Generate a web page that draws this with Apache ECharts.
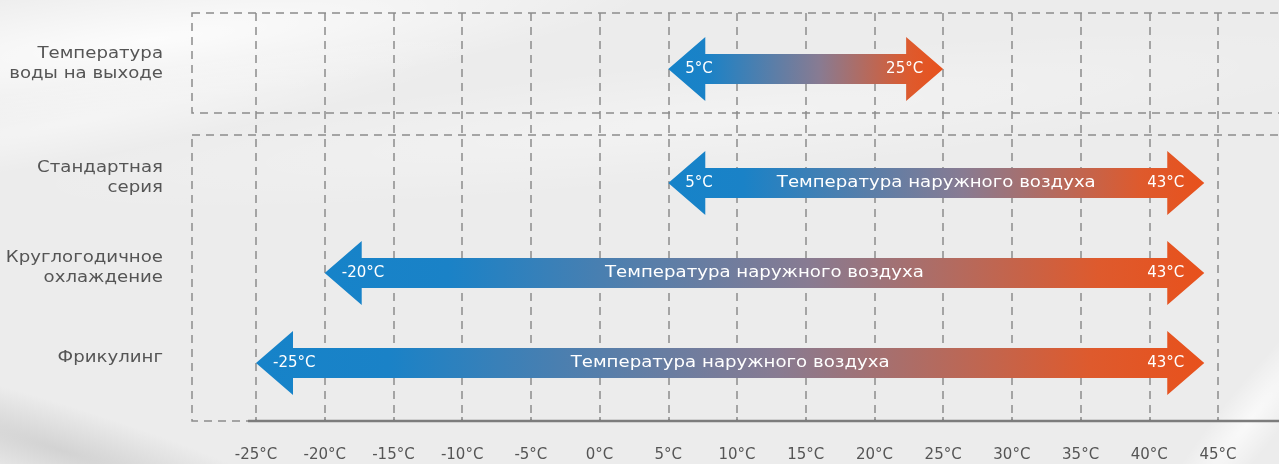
<!DOCTYPE html>
<html>
<head>
<meta charset="utf-8">
<script src="https://cdn.jsdelivr.net/npm/echarts@6/dist/echarts.min.js"></script>
<style>
html,body{margin:0;padding:0;background:#ededed;}
#chart{width:1279px;height:464px;}
</style>
</head>
<body>
<div id="chart"></div>
<script>
// ---- data ----
const categories = ['Температура\nводы на выходе', 'Стандартная\nсерия', 'Круглогодичное\nохлаждение', 'Фрикулинг'];
const rangeFrom = [5, 5, -20, -25];          // arrow start (°C)
const rangeTo = [25, 44, 44, 44];            // arrow tip as drawn (°C)
const fromLabels = ['5°C', '5°C', '-20°C', '-25°C'];
const toLabels = ['25°C', '43°C', '43°C', '43°C'];
const midLabels = ['', 'Температура наружного воздуха', 'Температура наружного воздуха', 'Температура наружного воздуха'];
const tickValues = [-25, -20, -15, -10, -5, 0, 5, 10, 15, 20, 25, 30, 35, 40, 45];

const FONT = '"DejaVu Sans", Inter, sans-serif';
const chart = echarts.init(document.getElementById('chart'));

function renderArrow(params, api) {
  const idx = api.value(2);
  const p0 = api.coord([api.value(0), api.value(3)]);
  const p1 = api.coord([api.value(1), api.value(3)]);
  const x0 = p0[0], x1 = p1[0], cy = p0[1];
  const bh = 15, hh = 32, hl = 37;
  const pts = [
    [x0, cy], [x0 + hl, cy - hh], [x0 + hl, cy - bh], [x1 - hl, cy - bh], [x1 - hl, cy - hh],
    [x1, cy], [x1 - hl, cy + hh], [x1 - hl, cy + bh], [x0 + hl, cy + bh], [x0 + hl, cy + hh]
  ];
  const grad = new echarts.graphic.LinearGradient(0, 0, 1, 0, [
    {offset: 0, color: '#1683c9'},
    {offset: 0.14, color: '#1a82c7'},
    {offset: 0.55, color: '#887b92'},
    {offset: 0.88, color: '#de5a2d'},
    {offset: 1, color: '#e8511c'}
  ]);
  const children = [
    {type: 'polygon', shape: {points: pts}, style: {fill: grad}},
    {type: 'text', style: {x: x0 + 17, y: cy, text: fromLabels[idx], fill: '#fff', font: '15px ' + FONT, verticalAlign: 'middle', align: 'left'}},
    {type: 'text', style: {x: x1 - 20, y: cy, text: toLabels[idx], fill: '#fff', font: '15px ' + FONT, verticalAlign: 'middle', align: 'right'}},
    // row name, to the left of the plot area
    {type: 'text', x: params.coordSys.x - 93, y: cy - 5, scaleX: 1.1,
      style: {x: 0, y: 0, text: categories[idx], fill: '#555', font: '16.5px ' + FONT, lineHeight: 20, verticalAlign: 'middle', align: 'right'}}
  ];
  if (midLabels[idx]) {
    children.push({type: 'text', x: (x0 + x1) / 2, y: cy, scaleX: 1.1,
      style: {x: 0, y: 0, text: midLabels[idx], fill: '#fff', font: '16.5px ' + FONT, verticalAlign: 'middle', align: 'center'}});
  }
  return {type: 'group', children};
}

const topData = [[rangeFrom[0], rangeTo[0], 0, 0]];
const lowData = [1, 2, 3].map((i, k) => [rangeFrom[i], rangeTo[i], i, k]);

const xBase = {type: 'value', min: -25, max: 45, interval: 5};

function glow(cx, cy, rx, ry, rot, color) {
  return {type: 'rect', z: -10, silent: true, x: cx, y: cy, rotation: rot, scaleX: rx / 100, scaleY: ry / 100,
    shape: {x: -100, y: -100, width: 200, height: 200},
    style: {fill: new echarts.graphic.RadialGradient(0.5, 0.5, 0.5, [
      {offset: 0, color: color}, {offset: 1, color: color.replace(/[\d.]+\)$/, '0)')}
    ])}};
}

const option = {
  backgroundColor: '#ececec',
  animation: false,
  graphic: [
    glow(150, 40, 520, 70, 0.12, 'rgba(255,255,255,0.85)'),
    glow(80, 120, 420, 40, 0.18, 'rgba(255,255,255,0.45)'),
    glow(700, 120, 700, 60, 0.1, 'rgba(255,255,255,0.35)'),
    glow(60, 450, 300, 45, -0.3, 'rgba(200,200,200,0.7)'),
    glow(1250, 420, 170, 30, 0.9, 'rgba(255,255,255,0.7)'),
    // dashed frames
    {type: 'rect', z: 1, shape: {x: 192, y: 13, width: 1120, height: 100}, style: {fill: 'none', stroke: '#8c8c8c', lineWidth: 1.5, lineDash: [8, 6]}},
    {type: 'rect', z: 1, shape: {x: 192, y: 135, width: 1120, height: 286}, style: {fill: 'none', stroke: '#8c8c8c', lineWidth: 1.5, lineDash: [8, 6]}},
    // solid axis line
    {type: 'line', z: 5, shape: {x1: 248, y1: 421, x2: 1279, y2: 421}, style: {stroke: '#7c7c7c', lineWidth: 2.5}}
  ],
  grid: [
    {left: 256, right: 61, top: 13, bottom: 43},
    {left: 256, right: 61, top: 44, height: 50},
    {left: 256, right: 61, top: 138, height: 270}
  ],
  xAxis: [
    Object.assign({}, xBase, {
      gridIndex: 0,
      axisLine: {show: false},
      axisTick: {show: true, inside: true, length: 4, lineStyle: {color: '#8a8a8a', width: 1.5}},
      splitLine: {show: true, lineStyle: {color: '#8c8c8c', width: 1.5, type: [8, 6]}},
      axisLabel: {color: '#555', fontSize: 15, fontFamily: FONT, margin: 27,
        formatter: v => tickValues.indexOf(v) >= 0 ? v + '°C' : ''}
    }),
    Object.assign({}, xBase, {gridIndex: 1, show: false}),
    Object.assign({}, xBase, {gridIndex: 2, show: false})
  ],
  yAxis: [
    {type: 'category', gridIndex: 0, data: [''], show: false},
    {type: 'category', gridIndex: 1, data: categories.slice(0, 1), inverse: true, show: false},
    {type: 'category', gridIndex: 2, data: categories.slice(1), inverse: true, show: false}
  ],
  series: [
    {type: 'custom', xAxisIndex: 1, yAxisIndex: 1, renderItem: renderArrow, data: topData, encode: {x: [0, 1], y: 3}, z: 10},
    {type: 'custom', xAxisIndex: 2, yAxisIndex: 2, renderItem: renderArrow, data: lowData, encode: {x: [0, 1], y: 3}, z: 10}
  ]
};
chart.setOption(option);
</script>
</body>
</html>
